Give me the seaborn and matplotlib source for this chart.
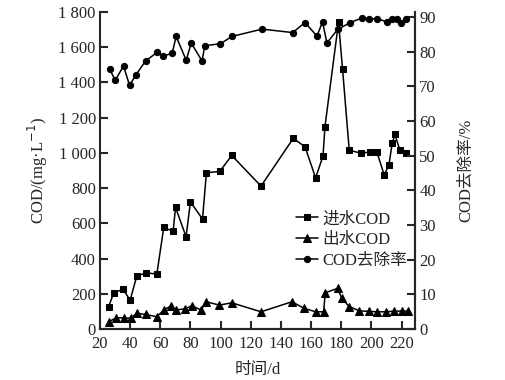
import matplotlib
matplotlib.use("Agg")
import matplotlib.pyplot as plt
import pandas as pd
import seaborn as sns

# ---- Data ----
DAY_IN = [25.7, 29.0, 35.2, 40.0, 44.4, 50.7, 57.7, 62.3, 68.5, 70.1, 77.1, 80.0,
          88.0, 90.6, 99.4, 107.4, 126.8, 148.2, 156.0, 163.0, 167.9, 169.2,
          178.2, 180.9, 185.3, 193.4, 199.2, 203.6, 208.5, 211.6, 213.8, 215.6,
          218.9, 222.8]
COD_IN = [127, 202, 227, 164, 301, 319, 312, 577, 554, 690, 524, 722,
          624, 887, 894, 985, 811, 1082, 1034, 858, 981, 1148,
          1740, 1473, 1015, 997, 1006, 1006, 874, 930, 1053, 1104,
          1015, 1000]

DAY_OUT = [25.7, 30.8, 35.6, 40.3, 44.4, 50.2, 57.7, 62.3, 67.2, 70.1, 76.5, 80.9,
           87.1, 90.4, 99.2, 107.4, 126.8, 147.3, 155.5, 163.2, 168.3, 169.4,
           177.6, 180.2, 185.3, 192.0, 198.4, 204.0, 209.6, 215.1, 220.2, 224.6]
COD_OUT = [41, 64, 64, 61, 89, 83, 70, 108, 132, 108, 115, 132,
           108, 155, 136, 149, 98, 155, 117, 98, 98, 206,
           231, 178, 127, 104, 100, 98, 98, 102, 102, 102]

DAY_RATE = [26.4, 30.1, 35.6, 39.6, 44.0, 50.2, 57.9, 62.1, 67.9, 70.5, 77.2, 80.5,
            87.7, 89.5, 99.9, 107.6, 127.5, 147.8, 156.0, 163.9, 167.6, 170.5,
            177.6, 186.0, 193.7, 198.5, 203.6, 210.3, 214.0, 217.3, 219.5, 222.8]
RATE = [75.0, 71.7, 75.9, 70.3, 73.4, 77.3, 79.8, 78.7, 79.6, 84.4, 77.5, 82.5,
        77.3, 81.7, 82.3, 84.4, 86.5, 85.5, 88.4, 84.5, 88.6, 82.5,
        86.4, 88.4, 89.7, 89.5, 89.5, 88.6, 89.3, 89.3, 88.3, 89.3]

X_TICKS = list(range(20, 221, 20))
Y_TICKS = list(range(0, 1801, 200))
Y_TICK_LABELS = ["0", "200", "400", "600", "800", "1 000", "1 200", "1 400", "1 600", "1 800"]
Y2_TICKS = list(range(0, 91, 10))

LABELS = ["进水COD", "出水COD", "COD去除率"]

sns.set_style("ticks")
plt.rcParams["font.family"] = ["Liberation Serif", "Noto Sans CJK SC", "DejaVu Sans"]
plt.rcParams["font.size"] = 12

df_in = pd.DataFrame({"day": DAY_IN, "cod": COD_IN})
df_out = pd.DataFrame({"day": DAY_OUT, "cod": COD_OUT})
df_rate = pd.DataFrame({"day": DAY_RATE, "rate": RATE})

fig = plt.figure(figsize=(5.05, 3.8), dpi=100)
ax = fig.add_axes([0.198, 0.134, 0.624, 0.835])
ax2 = ax.twinx()

line_kw = dict(color="black", linewidth=1.1, markeredgecolor="black", sort=False)
sns.lineplot(data=df_in, x="day", y="cod", marker="s", markersize=4.8,
             label=LABELS[0], ax=ax, **line_kw)
sns.lineplot(data=df_out, x="day", y="cod", marker="^", markersize=5.5,
             label=LABELS[1], ax=ax, **line_kw)
sns.lineplot(data=df_rate, x="day", y="rate", marker="o", markersize=4.5,
             label=LABELS[2], ax=ax2, **line_kw)

ax.set_xlim(20, 229)
ax.set_ylim(0, 1800)
ax2.set_ylim(0, 91.5)
ax.set_xticks(X_TICKS)
ax.set_yticks(Y_TICKS)
ax.set_yticklabels(Y_TICK_LABELS)
ax2.set_yticks(Y2_TICKS)

ax.set_xlabel("时间/d", fontsize=12, labelpad=7)
ax.set_ylabel("COD/(mg·L$^{-1}$)", fontsize=12, labelpad=6)
ax2.set_ylabel("COD去除率/%", fontsize=12, labelpad=16)

for a in (ax, ax2):
    a.spines["top"].set_visible(False)
    for s in a.spines.values():
        s.set_linewidth(1.5)
    a.tick_params(direction="in", length=6, width=1.5, labelsize=12, pad=3)
ax.tick_params(axis="x", pad=5)
ax2.spines["left"].set_visible(False)

handles, labels = ax.get_legend_handles_labels()
h2, l2 = ax2.get_legend_handles_labels()
if ax2.get_legend():
    ax2.get_legend().remove()
ax.get_legend().remove()
ax2.legend(handles + h2, labels + l2, loc="center left", bbox_to_anchor=(0.585, 0.28),
           frameon=False, fontsize=12, handlelength=1.3, handletextpad=0.3,
           labelspacing=0.3, borderpad=0.2)

fig.savefig("out.png", dpi=100)
plt.close(fig)
